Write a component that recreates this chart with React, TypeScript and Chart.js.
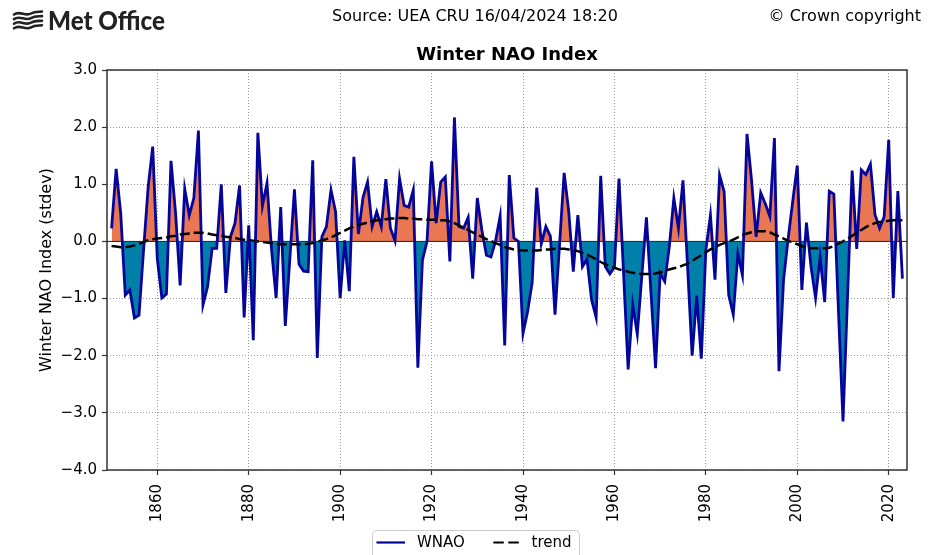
import React, { useEffect, useRef } from 'react';
import { Chart, registerables } from 'chart.js';

Chart.register(...registerables);

const FIRST_YEAR = 1850;

const wnao: number[] = [
  0.23, 1.27, 0.49, -0.94, -0.85, -1.34, -1.29, -0.15, 0.95, 1.66,
  -0.30, -0.99, -0.92, 1.41, 0.50, -0.77, 0.92, 0.46, 0.76, 1.94,
  -1.11, -0.79, -0.12, -0.12, 1.00, -0.90, 0.08, 0.32, 0.98, -1.33,
  0.28, -1.73, 1.90, 0.62, 1.02, -0.15, -0.99, 0.60, -1.48, -0.30,
  0.91, -0.40, -0.52, -0.53, 1.42, -2.04, 0.08, 0.26, 0.90, 0.52,
  -0.99, 0.02, -0.87, 1.48, 0.13, 0.77, 1.04, 0.26, 0.52, 0.26,
  1.09, 0.23, 0.01, 1.10, 0.63, 0.60, 0.90, -2.21, -0.33, 0.00,
  1.40, 0.32, 1.04, 1.13, -0.35, 2.17, 0.26, 0.23, 0.42, -0.65,
  0.76, 0.20, -0.24, -0.27, 0.01, 0.44, -1.82, 1.16, 0.06, 0.00,
  -1.61, -1.23, -0.72, 0.94, -0.04, 0.26, 0.09, -1.28, -0.05, 1.20,
  0.53, -0.53, 0.46, -0.44, -0.31, -1.02, -1.33, 1.15, -0.44, -0.57,
  -0.45, 1.10, -0.56, -2.24, -1.10, -1.62, -0.60, 0.42, -0.90, -2.22,
  -0.56, -0.70, -0.10, 0.76, 0.23, 1.07, -0.44, -2.00, -0.95, -2.05,
  -0.15, 0.46, -0.67, 1.16, 0.87, -0.94, -1.28, -0.21, -0.59, 1.88,
  1.07, 0.08, 0.85, 0.66, 0.44, 1.81, -2.27, -0.67, 0.05, 0.70,
  1.33, -0.85, 0.33, -0.44, -0.99, -0.27, -1.06, 0.88, 0.83, -1.20,
  -3.15, -0.95, 1.24, -0.13, 1.25, 1.17, 1.35, 0.47, 0.23, 0.43,
  1.78, -0.99, 0.88, -0.65,
];

const trend: number[] = [
  -0.08, -0.09, -0.10, -0.10, -0.09, -0.07, -0.04, -0.01, 0.02, 0.04,
  0.05, 0.06, 0.07, 0.09, 0.10, 0.12, 0.13, 0.14, 0.15, 0.15,
  0.15, 0.14, 0.12, 0.11, 0.10, 0.08, 0.07, 0.06, 0.04, 0.03,
  0.02, 0.01, 0.00, -0.01, -0.02, -0.03, -0.04, -0.05, -0.05, -0.05,
  -0.05, -0.05, -0.05, -0.04, -0.03, -0.01, 0.02, 0.04, 0.07, 0.11,
  0.15, 0.19, 0.23, 0.26, 0.29, 0.31, 0.33, 0.35, 0.37, 0.38,
  0.39, 0.40, 0.40, 0.41, 0.41, 0.40, 0.40, 0.39, 0.39, 0.38,
  0.38, 0.38, 0.37, 0.37, 0.35, 0.32, 0.28, 0.24, 0.20, 0.16,
  0.12, 0.08, 0.04, 0.01, -0.03, -0.06, -0.10, -0.12, -0.14, -0.15,
  -0.16, -0.16, -0.16, -0.16, -0.15, -0.14, -0.14, -0.13, -0.13, -0.13,
  -0.14, -0.15, -0.17, -0.20, -0.23, -0.27, -0.31, -0.36, -0.40, -0.43,
  -0.46, -0.49, -0.51, -0.53, -0.55, -0.56, -0.57, -0.57, -0.57, -0.56,
  -0.54, -0.52, -0.49, -0.47, -0.45, -0.42, -0.39, -0.34, -0.29, -0.24,
  -0.19, -0.14, -0.10, -0.06, -0.03, 0.00, 0.03, 0.07, 0.11, 0.14,
  0.16, 0.18, 0.18, 0.18, 0.16, 0.12, 0.09, 0.05, 0.01, -0.02,
  -0.05, -0.08, -0.10, -0.12, -0.12, -0.12, -0.12, -0.11, -0.08, -0.04,
  0.00, 0.05, 0.10, 0.15, 0.20, 0.25, 0.29, 0.32, 0.34, 0.35,
  0.36, 0.37, 0.37, 0.37,
];

const xTickYears: number[] = [1860, 1880, 1900, 1920, 1940, 1960, 1980, 2000, 2020];
const yTickValues: number[] = [-4, -3, -2, -1, 0, 1, 2, 3];
const xRange: number[] = [1849, 2024];

const titleText = 'Winter NAO Index';
const yAxisLabel = 'Winter NAO Index (stdev)';
const headerSource = 'Source: UEA CRU 16/04/2024 18:20';
const headerCopyright = '\u00A9 Crown copyright';
const logoText = 'Met Office';
const seriesLabels: string[] = ['WNAO', 'trend'];

const FONT = '"DejaVu Sans", sans-serif';
const LINE_COLOR = '#05059c';
const ABOVE_COLOR = '#e87752';
const BELOW_COLOR = '#0080a8';

const fmtY = (v: number) => (v < 0 ? '\u2212' : '') + Math.abs(v).toFixed(1);

const decorPlugin = {
  id: 'decor',
  afterDatasetsDraw(chart: any) {
    const { ctx, chartArea: a, scales } = chart;
    const y0 = scales.y.getPixelForValue(0);
    ctx.save();
    ctx.strokeStyle = '#222';
    ctx.lineWidth = 1;
    ctx.beginPath();
    ctx.moveTo(a.left, y0);
    ctx.lineTo(a.right, y0);
    ctx.stroke();
    ctx.restore();
  },
  afterDraw(chart: any) {
    const { ctx, chartArea: a } = chart;
    ctx.save();
    // spines
    ctx.strokeStyle = '#333';
    ctx.lineWidth = 1.5;
    ctx.strokeRect(a.left, a.top, a.right - a.left, a.bottom - a.top);

    // header texts
    ctx.fillStyle = '#000';
    ctx.font = '16px ' + FONT;
    ctx.textBaseline = 'middle';
    ctx.textAlign = 'center';
    ctx.fillText(headerSource, 475, 17);
    ctx.textAlign = 'right';
    ctx.fillText(headerCopyright, 921, 17);

    // title
    ctx.font = 'bold 18px ' + FONT;
    ctx.textAlign = 'center';
    ctx.fillText(titleText, (a.left + a.right) / 2, 55);

    // logo icon
    ctx.strokeStyle = '#222';
    ctx.lineWidth = 2.6;
    ctx.lineCap = 'round';
    for (let i = 0; i < 4; i++) {
      const yb = 13 + i * 4.6;
      ctx.beginPath();
      ctx.moveTo(14, yb + 1.5);
      ctx.bezierCurveTo(20, yb - 3, 25, yb + 4, 31, yb + 0.5);
      ctx.bezierCurveTo(35, yb - 2, 39, yb - 1, 42, yb - 1.5);
      ctx.stroke();
    }
    // logo text
    ctx.fillStyle = '#222';
    ctx.font = '900 27px Lato, "Open Sans", sans-serif';
    ctx.textAlign = 'left';
    ctx.textBaseline = 'alphabetic';
    ctx.fillText(logoText, 48, 30, 117);

    // legend
    const lx = 372.5, ly = 530.5, lw = 207, lh = 34, r = 4;
    ctx.beginPath();
    ctx.moveTo(lx + r, ly);
    ctx.lineTo(lx + lw - r, ly);
    ctx.arcTo(lx + lw, ly, lx + lw, ly + r, r);
    ctx.lineTo(lx + lw, ly + lh);
    ctx.lineTo(lx, ly + lh);
    ctx.lineTo(lx, ly + r);
    ctx.arcTo(lx, ly, lx + r, ly, r);
    ctx.closePath();
    ctx.fillStyle = 'rgba(255,255,255,0.8)';
    ctx.fill();
    ctx.strokeStyle = '#cccccc';
    ctx.lineWidth = 1;
    ctx.stroke();

    const ds = chart.data.datasets;
    ctx.lineCap = 'butt';
    ctx.strokeStyle = ds[0].borderColor;
    ctx.lineWidth = 2.2;
    ctx.beginPath();
    ctx.moveTo(376.5, 542.5);
    ctx.lineTo(405, 542.5);
    ctx.stroke();

    ctx.strokeStyle = ds[1].borderColor;
    ctx.setLineDash([10.5, 4.5]);
    ctx.beginPath();
    ctx.moveTo(493.3, 542.5);
    ctx.lineTo(520, 542.5);
    ctx.stroke();
    ctx.setLineDash([]);

    ctx.fillStyle = '#000';
    ctx.font = '15px ' + FONT;
    ctx.textBaseline = 'middle';
    ctx.fillText(ds[0].label, 417, 543);
    ctx.fillText(ds[1].label, 531.5, 543);
    ctx.restore();
  },
};

export default function App() {
  const canvasRef = useRef<HTMLCanvasElement | null>(null);

  useEffect(() => {
    if (!canvasRef.current) return;
    const toPoints = (arr: number[]) => arr.map((v, i) => ({ x: FIRST_YEAR + i, y: v }));
    const tickFont = { family: FONT, size: 15 };
    const chart = new Chart(canvasRef.current, {
      type: 'line',
      data: {
        datasets: [
          {
            label: seriesLabels[0],
            data: toPoints(wnao),
            borderColor: LINE_COLOR,
            borderWidth: 2.8,
            pointRadius: 0,
            tension: 0,
            fill: { target: { value: 0 }, above: ABOVE_COLOR, below: BELOW_COLOR },
            order: 2,
          } as any,
          {
            label: seriesLabels[1],
            data: toPoints(trend),
            borderColor: '#000000',
            borderWidth: 2.5,
            borderDash: [10, 4],
            pointRadius: 0,
            tension: 0,
            fill: false,
            order: 1,
          } as any,
        ],
      },
      options: {
        animation: false,
        responsive: false,
        maintainAspectRatio: false,
        devicePixelRatio: 1,
        layout: { padding: { top: 70, right: 29, bottom: 25, left: 0 } },
        plugins: {
          legend: { display: false },
          tooltip: { enabled: false },
          title: { display: false },
        },
        scales: {
          x: {
            type: 'linear',
            min: xRange[0],
            max: xRange[1],
            afterBuildTicks: (s: any) => {
              s.ticks = xTickYears.map((v) => ({ value: v }));
            },
            afterFit: (s: any) => {
              s.height = 60;
            },
            ticks: {
              autoSkip: false,
              minRotation: 90,
              maxRotation: 90,
              padding: 9,
              color: '#000',
              font: tickFont,
              callback: (v: any) => String(v),
            },
            grid: {
              color: '#9a9a9a',
              lineWidth: 1,
              tickLength: 5,
              tickColor: '#333',
              tickWidth: 1.2,
              tickBorderDash: [],
            },
            border: { display: false, dash: [1, 2] },
          },
          y: {
            type: 'linear',
            min: -4,
            max: 3,
            afterBuildTicks: (s: any) => {
              s.ticks = yTickValues.map((v) => ({ value: v }));
            },
            afterFit: (s: any) => {
              s.width = 107;
            },
            ticks: {
              padding: 5,
              color: '#000',
              font: tickFont,
              callback: (v: any) => fmtY(Number(v)),
            },
            grid: {
              color: '#9a9a9a',
              lineWidth: 1,
              tickLength: 5,
              tickColor: '#333',
              tickWidth: 1.2,
              tickBorderDash: [],
            },
            border: { display: false, dash: [1, 2] },
            title: {
              display: true,
              text: yAxisLabel,
              color: '#000',
              font: { family: FONT, size: 16 },
              padding: { top: 37, bottom: 0 },
            },
          },
        },
      } as any,
      plugins: [decorPlugin],
    });
    return () => chart.destroy();
  }, []);

  return (
    <div style={{ position: 'absolute', left: 0, top: 0, width: 936, height: 555, background: '#fff' }}>
      <canvas ref={canvasRef} width={936} height={555} style={{ width: 936, height: 555, display: 'block' }} />
    </div>
  );
}
